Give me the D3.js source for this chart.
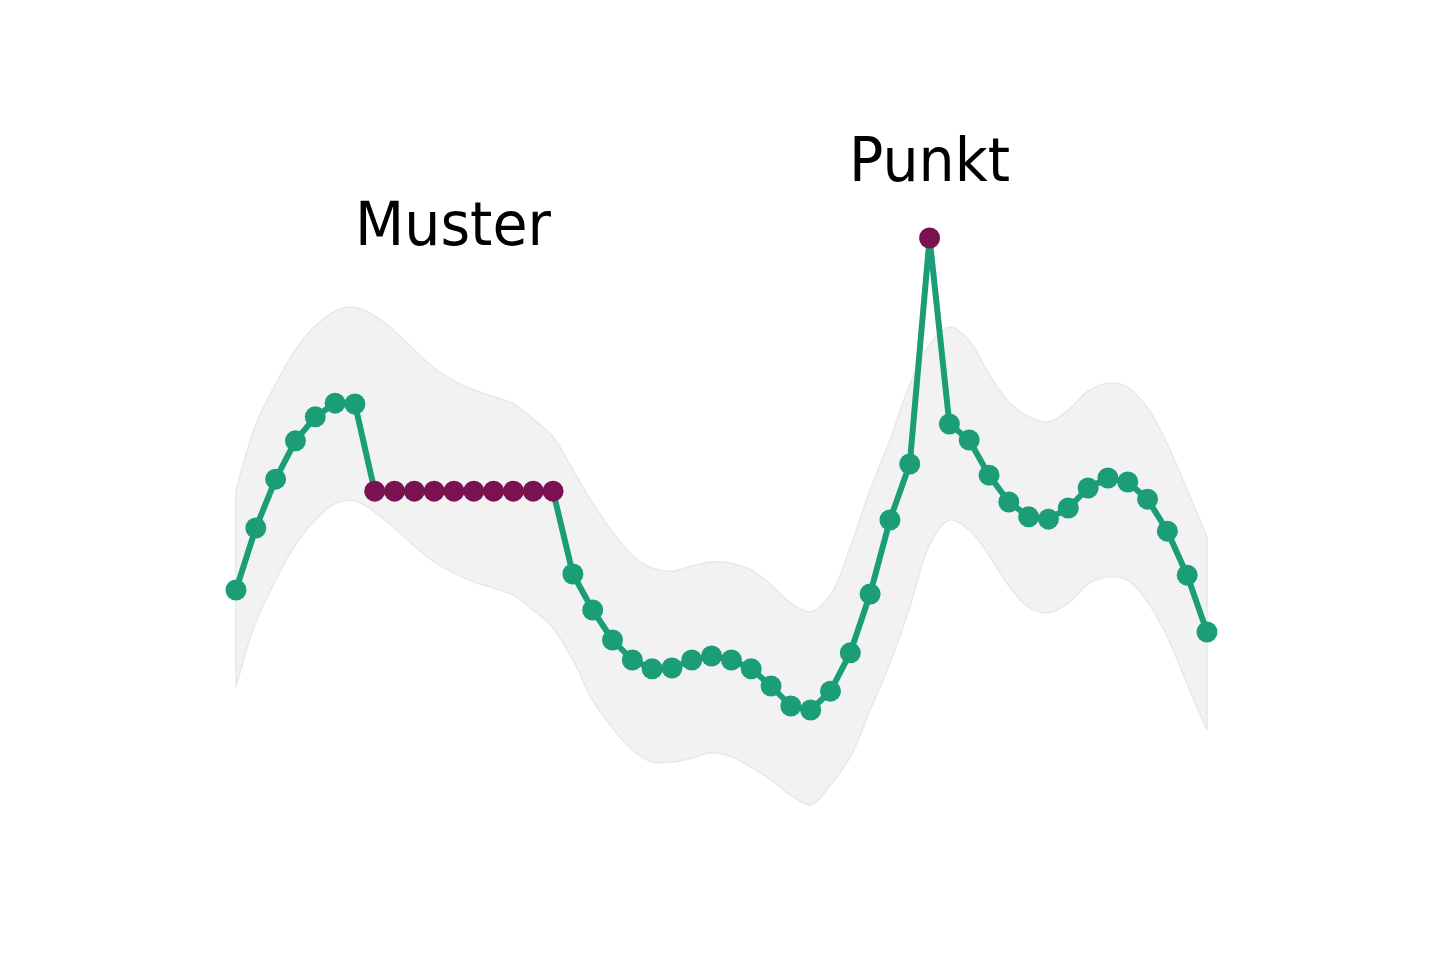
<!DOCTYPE html>
<html>
<head>
<meta charset="utf-8">
<script src="https://cdn.jsdelivr.net/npm/d3@7/dist/d3.min.js"></script>
<style>
  html, body { margin: 0; padding: 0; background: #ffffff; }
  svg { display: block; }
</style>
</head>
<body>
<svg id="chart" width="1440" height="960"></svg>
<script>
// ---- data ----
const values = [
  38.75, 46.5, 52.6, 57.4, 60.4, 62.1, 62.0,
  51.1, 51.1, 51.1, 51.1, 51.1, 51.1, 51.1, 51.1, 51.1, 51.1,
  40.75, 36.25, 32.5, 30.0, 28.9, 29.0, 30.0, 30.5, 30.0, 28.9,
  26.75, 24.25, 23.75, 26.1, 30.9, 38.25, 47.5, 54.5,
  82.75,
  59.5, 57.5, 53.1, 49.75, 47.9, 47.6, 49.0, 51.5, 52.75, 52.25,
  50.1, 46.1, 40.6, 33.5
];
const bandUpper = [
  51.25, 59.4, 64.5, 68.75, 71.75, 73.6, 74.1, 73.0, 71.1, 68.75,
  66.5, 64.9, 63.75, 62.9, 62.0, 60.1, 57.9, 53.75, 49.6, 46.0,
  43.1, 41.5, 41.1, 41.75, 42.25, 42.1, 41.25, 39.4, 37.1, 36.0,
  38.1, 44.1, 51.25, 57.5, 64.4, 69.4, 71.6, 69.9, 65.75, 62.25,
  60.4, 59.75, 61.25, 63.6, 64.6, 64.1, 61.5, 57.0, 51.25, 45.4
];
const bandLower = [
  26.6, 34.75, 40.0, 44.4, 47.5, 49.6, 49.9, 48.5, 46.5, 44.25,
  42.25, 40.9, 39.75, 39.0, 38.1, 36.25, 34.0, 30.0, 25.0, 21.5,
  18.75, 17.25, 17.25, 17.75, 18.4, 17.9, 16.6, 15.0, 13.1, 11.9,
  14.4, 17.9, 23.75, 29.6, 36.6, 44.4, 47.5, 46.25, 43.1, 39.25,
  36.6, 35.9, 37.1, 39.5, 40.4, 40.0, 37.25, 32.9, 27.0, 21.25
];
const patternIdx = [7, 8, 9, 10, 11, 12, 13, 14, 15, 16];
const pointIdx = [35];
const labels = [
  { text: "Muster", idx: 10.95, value: 81.9 },
  { text: "Punkt", idx: 35, value: 89.9 }
];

// ---- chart ----
const svg = d3.select("#chart");
const x = d3.scaleLinear().domain([0, values.length - 1]).range([236, 1207]);
const y = d3.scaleLinear().domain([0, 100]).range([900, 100]);

const idx = d3.range(values.length);
const highlighted = new Set([...patternIdx, ...pointIdx]);

const area = d3.area()
  .x(i => x(i))
  .y0(i => y(bandLower[i]))
  .y1(i => y(bandUpper[i]))
  .curve(d3.curveCatmullRom.alpha(0.5));

svg.append("path")
  .datum(idx)
  .attr("d", area)
  .attr("fill", "#f2f2f2")
  .attr("stroke", "#e8e8e8")
  .attr("stroke-width", 1.5);

const line = d3.line()
  .x(i => x(i))
  .y(i => y(values[i]));

svg.append("path")
  .datum(idx)
  .attr("d", line)
  .attr("fill", "none")
  .attr("stroke", "#1b9e77")
  .attr("stroke-width", 6)
  .attr("stroke-linejoin", "round");

svg.append("g").selectAll("circle")
  .data(idx.filter(i => !highlighted.has(i)))
  .join("circle")
  .attr("cx", i => x(i))
  .attr("cy", i => y(values[i]))
  .attr("r", 10.5)
  .attr("fill", "#1b9e77");

svg.append("g").selectAll("circle")
  .data([...patternIdx, ...pointIdx])
  .join("circle")
  .attr("cx", i => x(i))
  .attr("cy", i => y(values[i]))
  .attr("r", 10.5)
  .attr("fill", "#7a1150");

svg.append("g").selectAll("text")
  .data(labels)
  .join("text")
  .attr("transform", d => `translate(${x(d.idx)},${y(d.value)}) scale(1,1.06)`)
  .attr("text-anchor", "middle")
  .attr("font-family", "DejaVu Sans, sans-serif")
  .attr("font-size", 57)
  .attr("fill", "#000")
  .text(d => d.text);
</script>
</body>
</html>
